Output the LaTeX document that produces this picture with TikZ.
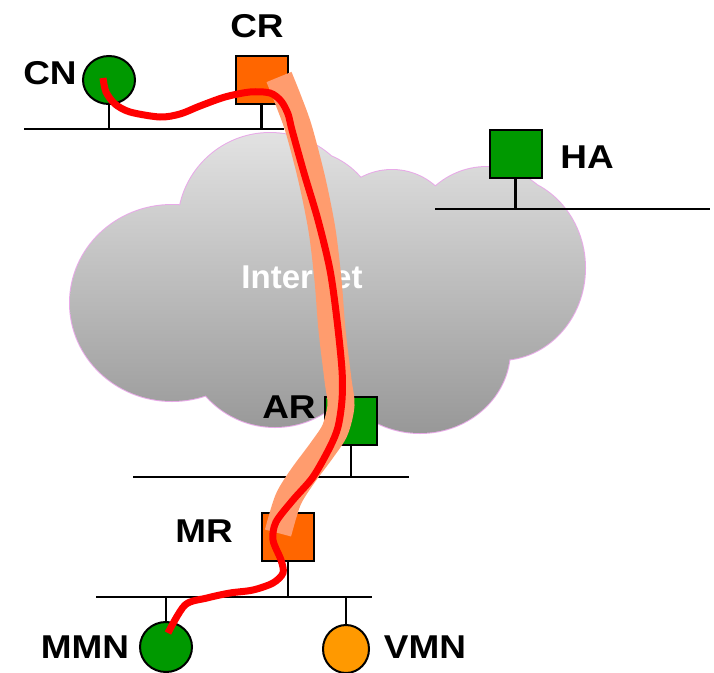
\documentclass[tikz,border=0pt]{standalone}
\usepackage{fontspec}
\setmainfont{Liberation Sans}
\newfontfamily\lblfont[FakeStretch=1.12]{Liberation Sans}
\usepackage{tikz}
\usetikzlibrary{shapes.geometric}
\definecolor{hostgreen}{RGB}{0,153,0}
\definecolor{routerorange}{RGB}{255,102,0}
\definecolor{visitorange}{RGB}{255,153,0}
\definecolor{tunnelsalmon}{RGB}{255,156,110}
\definecolor{cloudedge}{RGB}{232,170,232}
\definecolor{cloudtop}{RGB}{226,226,226}
\definecolor{cloudbottom}{RGB}{152,152,152}

\begin{document}
\begin{tikzpicture}[x=1pt,y=-1pt,
    router/.style={draw=black, line width=2pt, minimum width=52pt, minimum height=48pt, inner sep=0pt},
    host/.style={ellipse, draw=black, line width=2pt, minimum width=52pt, minimum height=48pt, inner sep=0pt},
    wire/.style={line width=2.5pt},
    lbl/.style={font=\lblfont\fontsize{33}{36}\selectfont\bfseries, inner sep=0pt}]
               \useasboundingbox (0,0) rectangle (714,672);
               % cloud: outline first, the shaded union covers the inner half
               \draw[color=cloudedge, line width=2pt] (172,303) ellipse [x radius=102, y radius=98] (270,225) circle (92) (300,230) circle (80) (392,235) circle (65) (487,245) circle (78) (500,268) ellipse [x radius=85, y radius=92] (420,350) ellipse [x radius=90, y radius=83] (275,335) circle (92);
               \shade[top color=cloudtop, bottom color=cloudbottom] (172,303) ellipse [x radius=102, y radius=98] (270,225) circle (92) (300,230) circle (80) (392,235) circle (65) (487,245) circle (78) (500,268) ellipse [x radius=85, y radius=92] (420,350) ellipse [x radius=90, y radius=83] (275,335) circle (92) (340,290) circle (110);
               \node[font=\fontsize{33}{36}\selectfont\bfseries, inner sep=0pt, color=white] (inet) at (302,277) {Internet};
               % links
               \coordinate (busA) at (24,129);  \coordinate (busA') at (284,129);
               \coordinate (busB) at (435,209); \coordinate (busB') at (710,209);
               \coordinate (busC) at (133,477); \coordinate (busC') at (409,477);
               \coordinate (busD) at (96,597);  \coordinate (busD') at (372,597);
               \draw[wire] (busA) -- (busA');
               \draw[wire] (busB) -- (busB');
               \draw[wire] (busC) -- (busC');
               \draw[wire] (busD) -- (busD');
               % routers and hosts
               \node[host, fill=hostgreen] (CN) at (109,80) {};
               \node[router, fill=routerorange] (CR) at (261.5,80) {};
               \node[router, fill=hostgreen] (HA) at (515.5,154) {};
               \node[router, fill=hostgreen] (AR) at (351,421) {};
               \node[router, fill=routerorange] (MR) at (288,537) {};
               \node[host, fill=hostgreen, minimum height=50pt] (MMN) at (166,647) {};
               \node[host, fill=visitorange, minimum width=46pt] (VMN) at (346,649) {};
               \draw[wire] (CN.south) -- (CN.south |- busA);
               \draw[wire] (CR.south) -- (CR.south |- busA);
               \draw[wire] (HA.south) -- (HA.south |- busB);
               \draw[wire] (AR.south) -- (AR.south |- busC);
               \draw[wire] (MR.south) -- (MR.south |- busD);
               \draw[wire] (MMN.north) -- (MMN.north |- busD);
               \draw[wire] (VMN.north) -- (VMN.north |- busD);
               \node[lbl] (lCN) at (50,73) {CN};
               \node[lbl] (lCR) at (257,26) {CR};
               \node[lbl] (lHA) at (587,157) {HA};
               \node[lbl] (lAR) at (289,407) {AR};
               \node[lbl] (lMR) at (204,531) {MR};
               \node[lbl] (lMMN) at (85,647) {MMN};
               \node[lbl] (lVMN) at (425,647) {VMN};
               % tunnel CR -- MR and the route CN -- MMN
               \coordinate (tunTop) at (279,77);
               \coordinate (tunEnd) at (278,533);
               \coordinate (routeStart) at (103,78);
               \coordinate (routeEnd) at (168,633);
               \draw[color=tunnelsalmon, line width=27pt] plot[smooth] coordinates {(tunTop) (289,102) (299,130) (312,180) (322,230) (328,280) (332,330) (338,380) (341,405) (335,430) (322,450) (302,477) (288,500) (tunEnd)};
               \draw[color=red, line width=7pt] plot[smooth] coordinates {(routeStart) (106,92) (115,104) (130,112) (160,117) (180,114) (200,106) (225,97) (250,92) (270,93) (281,101) (288,114) (292,130) (304,173) (318,220) (330,270) (337,320) (342,370) (342,400) (338,427) (330,447) (313,477) (293,500) (276,522) (273,540) (281,560) (283,573) (273,583) (253,590) (230,593) (207,598) (185,605) (routeEnd)};
           \end{tikzpicture}
\end{document}
